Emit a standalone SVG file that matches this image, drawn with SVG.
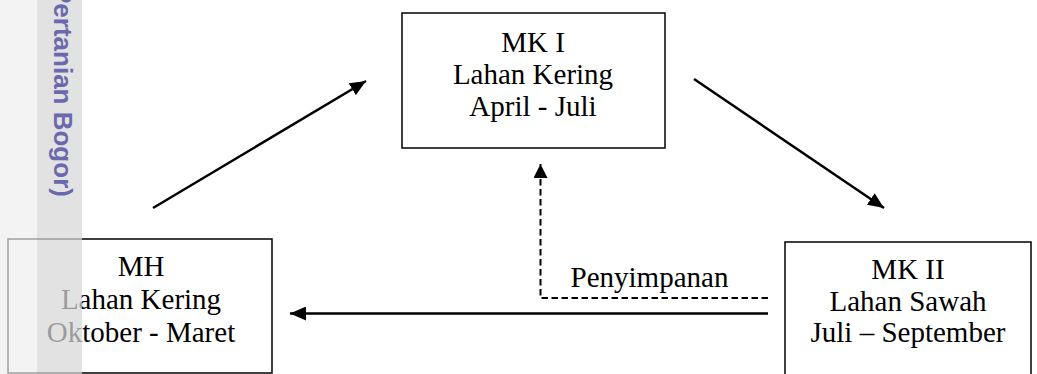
<svg xmlns="http://www.w3.org/2000/svg" width="1037" height="374" viewBox="0 0 1037 374">
<style>
.box{fill:#fff;stroke:#000;stroke-width:1.5}
.lbl{font-family:"Liberation Serif","Times New Roman",serif;font-size:29px;fill:#000;text-anchor:middle}
.con{stroke:#000;stroke-width:2.5;fill:none}
.dash{stroke:#000;stroke-width:2;fill:none;stroke-dasharray:6.5 3.5}
.wm{font-family:"Liberation Sans",Arial,sans-serif;font-weight:bold;font-size:26px;fill:#6b69ad}
</style>
<defs>
<marker id="ah" markerUnits="userSpaceOnUse" markerWidth="18" markerHeight="14" refX="16" refY="7" orient="auto">
<path d="M0,0 L16,7 L0,14 z" fill="#000"/>
</marker>
<marker id="ahs" markerUnits="userSpaceOnUse" markerWidth="16" markerHeight="14" refX="14" refY="7" orient="auto">
<path d="M0,0 L14,7 L0,14 z" fill="#000"/>
</marker>
</defs>
<rect width="1037" height="374" fill="#fff"/>
<g id="connectors">
<line class="con" x1="153" y1="208" x2="366" y2="81" marker-end="url(#ah)"/>
<line class="con" x1="694" y1="79" x2="884" y2="208" marker-end="url(#ah)"/>
<line class="con" x1="768" y1="313.5" x2="290" y2="313.5" marker-end="url(#ah)"/>
<polyline class="dash" points="768,298 540.5,298 540.5,164" marker-end="url(#ahs)"/>
<text class="lbl" x="649.5" y="287">Penyimpanan</text>
</g>
<g id="node-mk1">
<rect class="box" x="402" y="13" width="263" height="135"/>
<text class="lbl" x="533" y="52">MK I</text>
<text class="lbl" x="533" y="84">Lahan Kering</text>
<text class="lbl" x="533" y="116">April - Juli</text>
</g>
<g id="node-mh">
<rect class="box" x="8" y="239" width="264" height="134"/>
<text class="lbl" x="141" y="276">MH</text>
<text class="lbl" x="141" y="309">Lahan Kering</text>
<text class="lbl" x="141" y="342">Oktober - Maret</text>
</g>
<g id="node-mk2">
<rect class="box" x="785" y="242" width="246" height="140"/>
<text class="lbl" x="908" y="279">MK II</text>
<text class="lbl" x="908" y="311">Lahan Sawah</text>
<text class="lbl" x="908" y="342">Juli – September</text>
</g>
<g id="watermark">
<rect x="0" y="0" width="37" height="374" fill="rgb(237,237,237)" fill-opacity="0.68"/>
<rect x="37" y="0" width="45" height="374" fill="rgb(215,215,215)" fill-opacity="0.72"/>
<text class="wm" transform="translate(54,-14) rotate(90)">Pertanian Bogor)</text>
</g>
</svg>
